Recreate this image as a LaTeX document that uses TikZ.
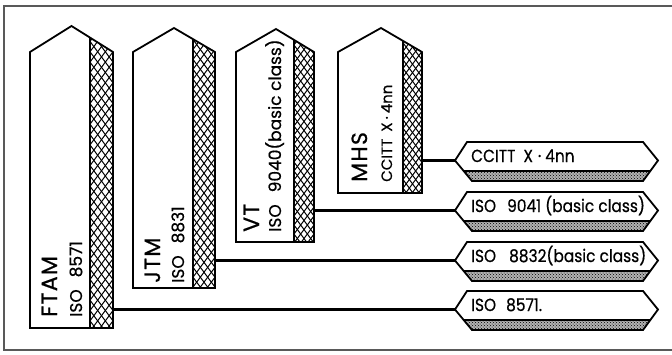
\documentclass[tikz,border=0pt]{standalone}
\usepackage{fontspec}
\setmainfont{Poppins}
\usetikzlibrary{patterns}
% #1 name, #2 left x, #3 divider x, #4 right x, #5 apex x, #6 apex y, #7 bottom y, #8 shoulder y
\newcommand\mypent[8]{%
  \pgfmathsetmacro\hw{(#4-#3)/3}%
  \begin{scope}
    \clip (#2,#8) -- (#5,#6) -- (#4,#8) -- (#4,#7) -- (#2,#7) -- cycle;
    \begin{scope}
      \clip (#3,0) rectangle (#4,#7);
      \foreach \i in {-50,...,50} {
        \draw[hatchl] ({#3+\i*\hw},0) -- ++(400,540);
        \draw[hatchl] ({#3+\i*\hw},0) -- ++(-400,540);
      }
    \end{scope}
    \draw[outl] (#3,0) -- (#3,#7);
  \end{scope}
  \draw[outl] (#2,#8) -- (#5,#6) -- (#4,#8) -- (#4,#7) -- (#2,#7) -- cycle;
  \coordinate (#1-e) at (#4,#8);
}
% #1 name, #2 top y, #3 text
\newcommand\myhex[3]{%
  \fill[black!30] (463.7,#2+29) -- (650.3,#2+29) -- (643,#2+39) -- (472,#2+39) -- cycle;
  \fill[pattern=crosshatch dots] (463.7,#2+29) -- (650.3,#2+29) -- (643,#2+39) -- (472,#2+39) -- cycle;
  \draw[thinl] (463.7,#2+29) -- (650.3,#2+29);
  \draw[outl] (455,#2+18.5) -- (467,#2) -- (643,#2) -- (658,#2+18.5) -- (643,#2+39) -- (472,#2+39) -- cycle;
  \coordinate (#1-l) at (455,#2+18.5);
  \node[boxtxt] (#1-t) at (471,#2+20) {#3};
}
\tikzset{
  outl/.style={line width=1.8pt, line join=miter},
  thinl/.style={line width=1.2pt},
  hatchl/.style={line width=1pt},
  conn/.style={line width=3pt},
  frame/.style={line width=1.3pt, draw=black!65},
  vbig/.style={rotate=90, anchor=base west, inner sep=0pt, font=\fontsize{22}{22}\selectfont\addfontfeature{LetterSpace=6,FakeBold=0.8}},
  vsmall/.style={rotate=90, anchor=base west, inner sep=0pt, font=\fontsize{17}{17}\selectfont\addfontfeature{FakeBold=0.5}},
  vsmaller/.style={rotate=90, anchor=base west, inner sep=0pt, font=\fontsize{15}{15}\selectfont\addfontfeature{FakeBold=0.5}},
  boxtxt/.style={anchor=base west, inner sep=0pt, font=\fontsize{17.5}{17.5}\selectfont\addfontfeature{FakeStretch=0.88,FakeBold=0.5}},
}
\begin{document}
\begin{tikzpicture}[x=1pt,y=-1pt]
\useasboundingbox (0,0) rectangle (672,354);
\fill[white] (0,0) rectangle (672,354);
\draw[frame] (672,6) -- (4,6) -- (4,350) -- (672,350);

% pentagon boxes
\mypent{ftam}{30}{90}{113}{71.5}{26}{328}{52}
\mypent{jtm}{133}{193}{215}{174}{28}{288}{52}
\mypent{vt}{236}{294}{314}{276}{29}{242}{52}
\mypent{mhs}{338}{403}{422}{381}{28}{193}{52}

\node[vbig] (ftam-a) at (57,317) {FTAM};
\node[vsmall] (ftam-b) at (82,317) {ISO\hspace{12pt}8571};
\node[vbig] (jtm-a) at (160,283) {JTM};
\node[vsmall] (jtm-b) at (184,283) {ISO\hspace{12pt}8831};
\node[vbig] (vt-a) at (259,232) {VT};
\node[vsmall] (vt-b) at (281,232) {ISO\hspace{12pt}9040(basic class)};
\node[vbig] (mhs-a) at (367,182) {MHS};
\node[vsmaller] (mhs-b) at (392,182) {CCITT\hspace{7pt}X\hspace{3pt}·\hspace{3pt}4nn};

% right boxes
\myhex{h1}{142}{CCITT\hspace{8pt}X\hspace{5pt}·\hspace{4pt}4nn}
\myhex{h2}{192}{ISO\hspace{11pt}9041 (basic class)}
\myhex{h3}{242}{ISO\hspace{13pt}8832(basic class)}
\myhex{h4}{291}{ISO\hspace{10pt}8571.}

% connectors
\draw[conn] (mhs-e |- h1-l) -- (h1-l);
\draw[conn] (vt-e |- h2-l) -- (h2-l);
\draw[conn] (jtm-e |- h3-l) -- (h3-l);
\draw[conn] (ftam-e |- h4-l) -- (h4-l);
\end{tikzpicture}
\end{document}
